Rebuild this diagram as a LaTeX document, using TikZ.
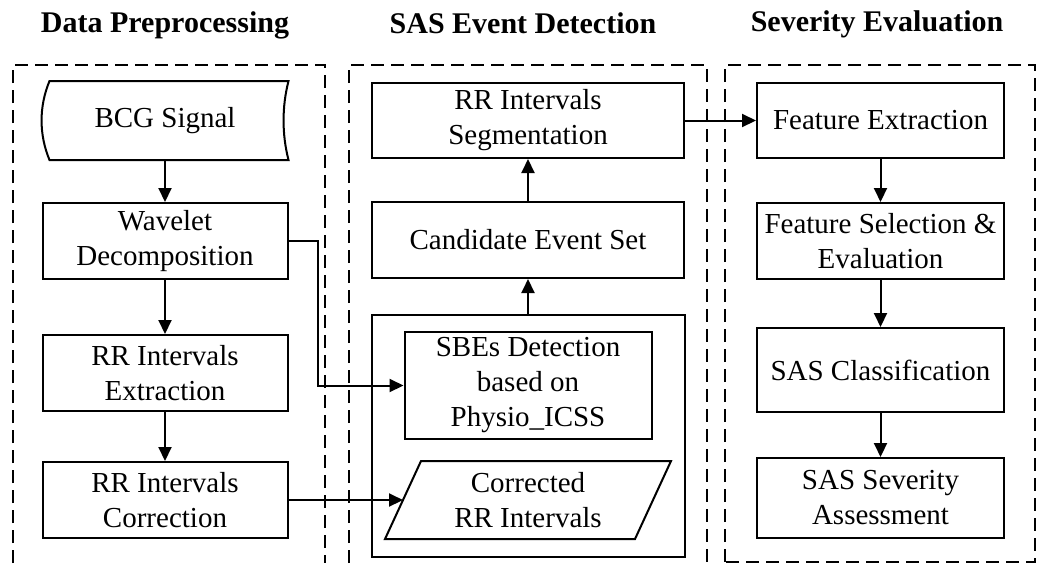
\documentclass[tikz,border=0pt]{standalone}
\usepackage{fontspec}
\setmainfont{Liberation Serif}
\usetikzlibrary{positioning, arrows.meta}

\begin{document}
\begin{tikzpicture}[->,>={Triangle[length=7pt,width=6.5pt]},x=0.5pt,y=-0.5pt,line width=1pt,node distance=62pt,font=\fontsize{14.5}{17.5}\selectfont]
        \tikzstyle{block}=[draw,rectangle,inner sep=0pt,align=center,minimum width=122.5pt,minimum height=38pt]
        \tikzstyle{frame}=[-,dash pattern=on 6.5pt off 3.5pt]
        \tikzstyle{title}=[anchor=base,font=\fontsize{15}{18}\selectfont\bfseries]

        \useasboundingbox (0,0) rectangle (1042,563);

        \node[title] (tpre) at (165,32) {Data Preprocessing};
        \node[title] (tdet) at (523,33) {SAS Event Detection};
        \node[title] (tsev) at (877,31) {Severity Evaluation};

        \draw[frame] (13,563) |- (325,65) -- (325,563);
        \draw[frame] (349,563) |- (707,65) -- (707,563);
        \draw[frame] (725,562) rectangle (1035,65);

        % data preprocessing
        \node[block,draw=none,minimum height=38.5pt] (bcg) at (165,120.5) {BCG Signal};
        \draw[-] ([xshift=4pt]bcg.north west) -- (bcg.north east)
              .. controls +(-3.3pt,-12.8pt) and +(-3.3pt,12.8pt) .. (bcg.south east)
              -- ([xshift=4pt]bcg.south west)
              .. controls +(-5.3pt,12.8pt) and +(-5.3pt,-12.8pt) .. cycle;
        \node[block] (wav) [below of=bcg, node distance=60.25pt] {Wavelet\\Decomposition};
        \node[block] (ext) [below of=wav, node distance=66pt] {RR Intervals\\Extraction};
        \node[block] (cor) [below of=ext, node distance=63.5pt] {RR Intervals\\Correction};

        % event detection
        \node[block,minimum width=156pt,minimum height=37.5pt] (seg) at (528,120.5) {RR Intervals\\Segmentation};
        \node[block,minimum width=156pt] (cand) [below of=seg, node distance=59.75pt] {Candidate Event Set};
        \node[block,minimum width=156.5pt,minimum height=121pt] (det) at (528,436) {};
        \node[block,minimum width=123.5pt,minimum height=53.5pt] (sbe) at (528,385.5) {SBEs Detection\\based on\\Physio\_ICSS};
        \node[block,draw=none,minimum width=142pt] (crr) at (528,500) {Corrected\\RR Intervals};
        \draw[-] ([xshift=18pt]crr.north west) -- (crr.north east) -- ([xshift=-18pt]crr.south east) -- (crr.south west) -- cycle;

        % severity evaluation
        \node[block,minimum width=123.5pt,minimum height=37.5pt] (fe) at (880.5,120.5) {Feature Extraction};
        \node[block,minimum width=123.5pt] (fs) [below of=fe, node distance=60.25pt] {Feature Selection \&\\Evaluation};
        \node[block,minimum width=123.5pt,minimum height=42pt] (cls) [below of=fs, node distance=64.5pt] {SAS Classification};
        \node[block,minimum width=123.5pt,minimum height=40pt] (sev) [below of=cls, node distance=64pt] {SAS Severity\\Assessment};

        \path (bcg) edge (wav)
              (wav) edge (ext)
              (ext) edge (cor)
              (det) edge (cand)
              (cand) edge (seg)
              (seg) edge (fe)
              (fe) edge (fs)
              (fs) edge (cls)
              (cls) edge (sev);
        \draw (wav.east) -- ++(14.5pt,0) |- (sbe.west);
        \draw (cor.east) -- ([xshift=9pt]crr.west);
    \end{tikzpicture}
\end{document}
